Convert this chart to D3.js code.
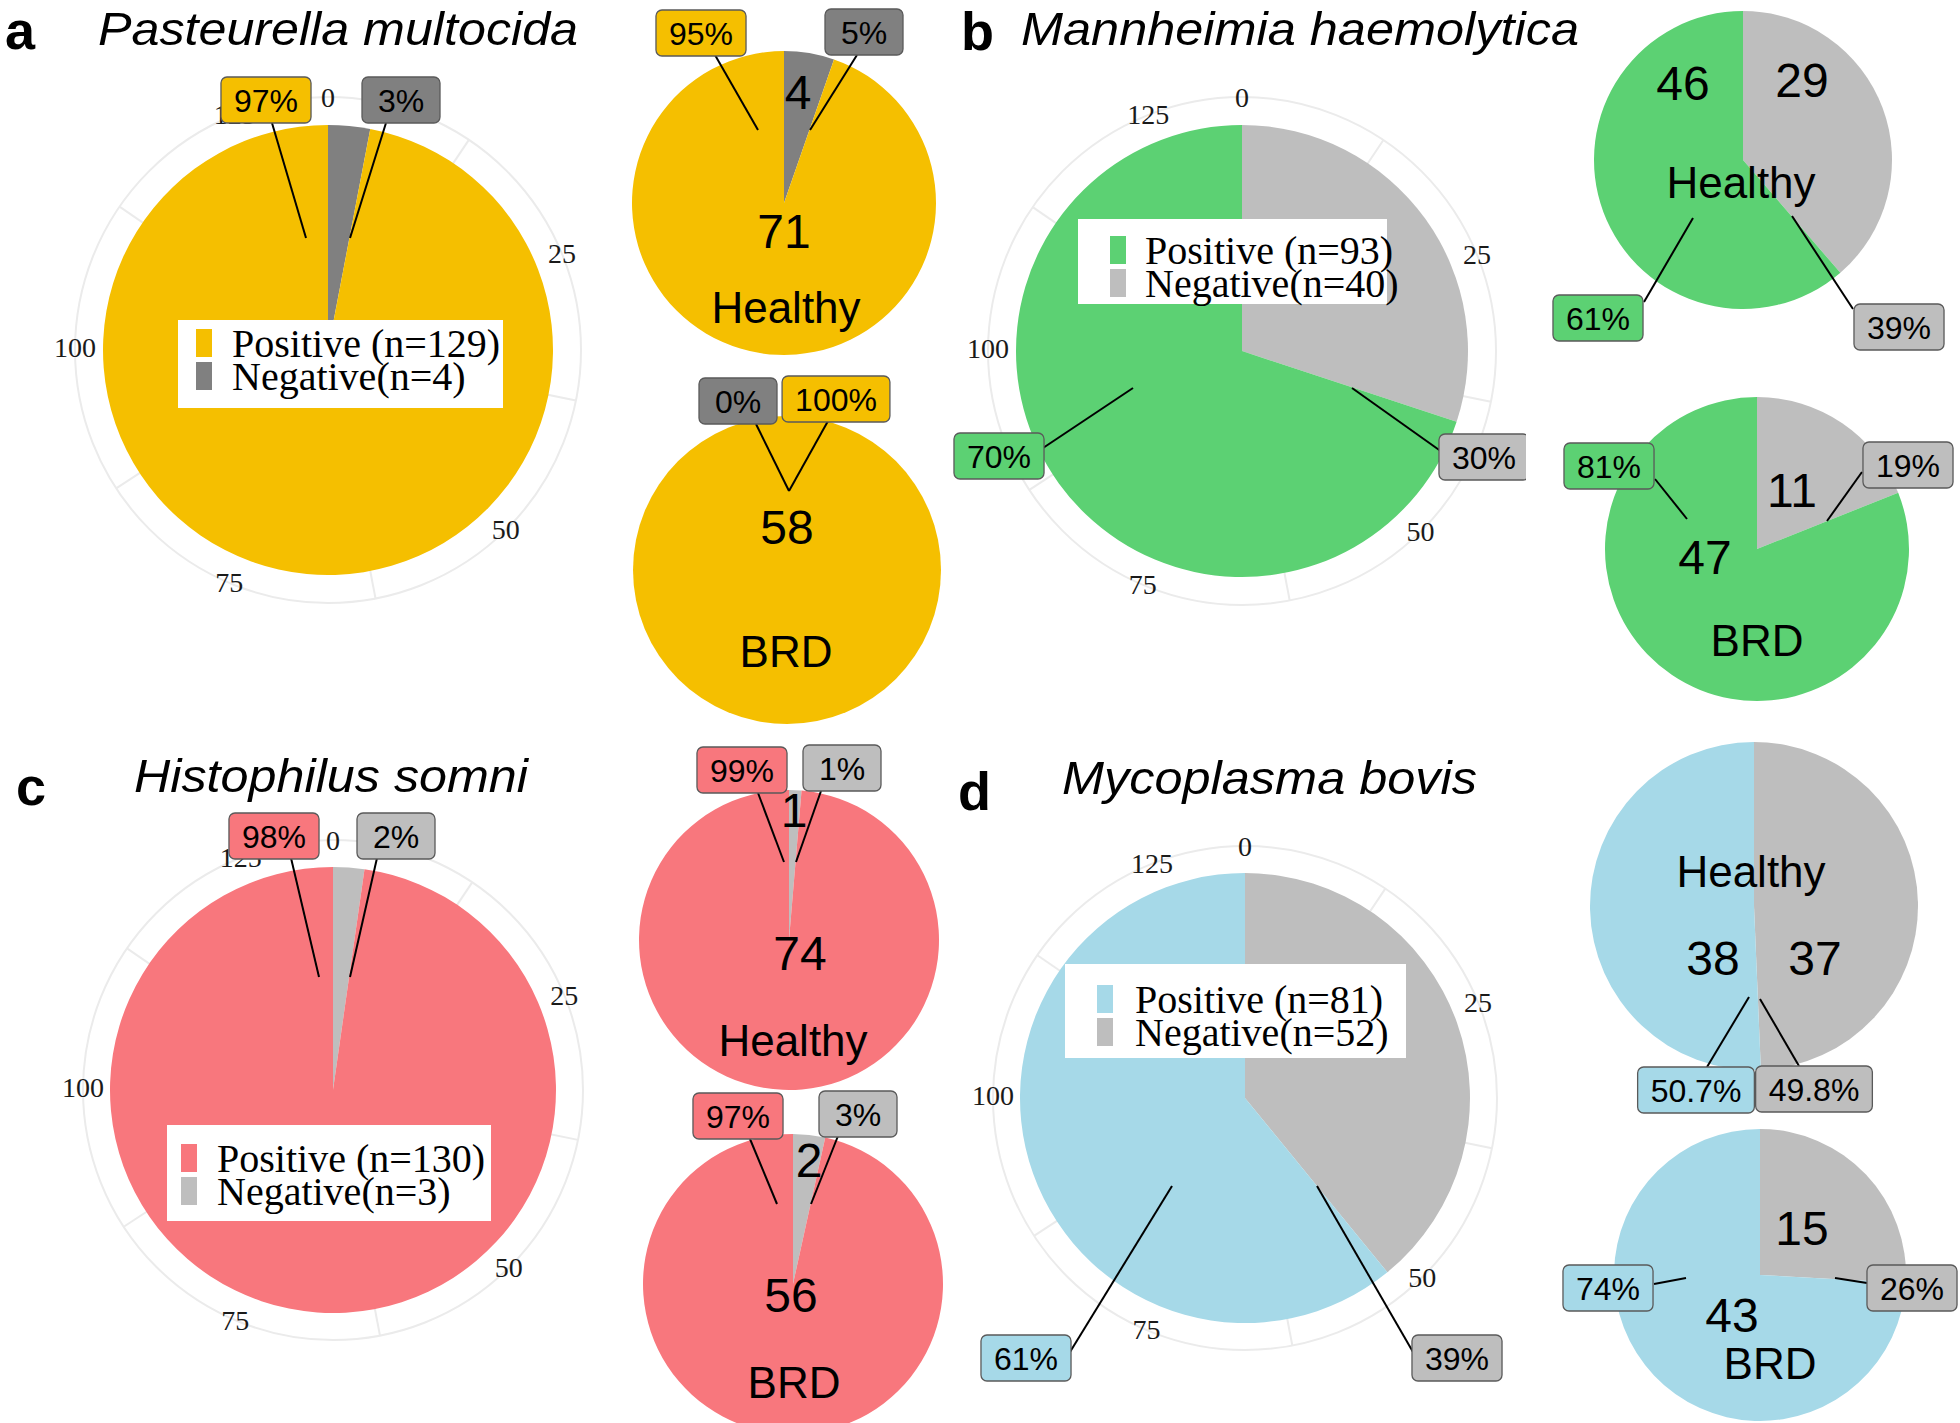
<!DOCTYPE html>
<html><head><meta charset="utf-8">
<script src="https://cdn.jsdelivr.net/npm/d3@7"></script>
<style>body{margin:0;background:#fff}svg{display:block}</style>
</head><body>
<svg id="fig" width="1960" height="1423"></svg>
<script>
// ---------------- DATA ----------------
const panelLetters = ['a','b','c','d'];
const species = ['Pasteurella multocida','Mannheimia haemolytica','Histophilus somni','Mycoplasma bovis'];
const totalPositive = [129, 93, 130, 81];
const totalNegative = [4, 40, 3, 52];
const healthyPositive = [71, 46, 74, 38];
const healthyNegative = [4, 29, 1, 37];
const brdPositive = [58, 47, 56, 43];
const brdNegative = [0, 11, 2, 15];
const totalPosPct = ['97%','70%','98%','61%'];
const totalNegPct = ['3%','30%','2%','39%'];
const healthyPosPct = ['95%','61%','99%','50.7%'];
const healthyNegPct = ['5%','39%','1%','49.8%'];
const brdPosPct = ['100%','81%','97%','74%'];
const brdNegPct = ['0%','19%','3%','26%'];
const groupNames = ['Healthy','BRD'];
const axisTicks = [0, 25, 50, 75, 100, 125];
const gridValues = [12.5, 37.5, 62.5, 87.5, 112.5];
const posColors = ['#F5BF00','#5CD173','#F8777D','#A6D9E8'];
const negColors = ['#808080','#BEBEBE','#BEBEBE','#BEBEBE'];

// ---------------- LAYOUT (positions only) ----------------
const layout = [
 { letter:[5,49], title:[98,45,480],
   big:{cx:328,cy:350,r:225,grid:253, legend:{x:178,y:320,w:325,h:88,keyX:196,textX:232,row1:343},
        posBox:[266,100], negBox:[401,100], posLine:[272,123,306,238], negLine:[386,123,350,238]},
   healthy:{cx:784,cy:203,r:152, posBox:[701,33], negBox:[864,32], posLine:[715,55,758,130], negLine:[857,55,810,130], posNum:[784,231], negNum:[798,92], name:[786,307]},
   brd:{cx:787,cy:570,r:154, posBox:[836,399], negBox:[738,401], posLine:[828,421,789,491], negLine:[756,424,789,491], posNum:[787,527], negNum:null, name:[786,651]} },
 { letter:[961,50], title:[1021,45,558],
   big:{cx:1242,cy:351,r:226,grid:254, legend:{x:1078,y:219,w:309,h:85,keyX:1110,textX:1145,row1:250},
        posBox:[999,456], negBox:[1484,457], posLine:[1043,448,1133,388], negLine:[1442,452,1352,388], clip:[940,0,586,740]},
   healthy:{cx:1743,cy:160,r:149, posBox:[1598,318], negBox:[1899,327], posLine:[1644,302,1693,218], negLine:[1853,309,1792,216], posNum:[1683,83], negNum:[1802,80], name:[1741,182]},
   brd:{cx:1757,cy:549,r:152, posBox:[1609,466], negBox:[1908,465], posLine:[1655,479,1687,519], negLine:[1862,472,1827,521], posNum:[1705,557], negNum:[1792,490], name:[1757,640]} },
 { letter:[16,805], title:[134,792,394],
   big:{cx:333,cy:1090,r:223,grid:250, legend:{x:167,y:1125,w:324,h:96,keyX:181,textX:217,row1:1158},
        posBox:[274,836], negBox:[396,836], posLine:[291,858,319,977], negLine:[377,858,350,977]},
   healthy:{cx:789,cy:940,r:150, posBox:[742,770], negBox:[842,768], posLine:[758,793,784,862], negLine:[821,791,796,862], posNum:[800,953], negNum:[794,810], name:[793,1040]},
   brd:{cx:793,cy:1284,r:150, posBox:[738,1116], negBox:[858,1114], posLine:[750,1139,777,1204], negLine:[838,1136,811,1204], posNum:[791,1295], negNum:[809,1160], name:[794,1382]} },
 { letter:[958,810], title:[1062,794,415],
   big:{cx:1245,cy:1098,r:225,grid:252, legend:{x:1065,y:964,w:341,h:94,keyX:1097,textX:1135,row1:999},
        posBox:[1026,1358], negBox:[1457,1358], posLine:[1070,1352,1172,1186], negLine:[1413,1352,1317,1186]},
   healthy:{cx:1754,cy:906,r:164, posBox:[1696,1090], negBox:[1814,1089], posLine:[1707,1067,1749,997], negLine:[1799,1066,1760,999], posNum:[1713,958], negNum:[1815,958], name:[1751,871]},
   brd:{cx:1760,cy:1275,r:146, posBox:[1608,1288], negBox:[1912,1288], posLine:[1654,1284,1686,1278], negLine:[1867,1283,1835,1278], posNum:[1732,1315], negNum:[1802,1228], name:[1770,1363]} }
];

const SANS = "'Liberation Sans', Arial, Helvetica, sans-serif";
const SERIF = "'Liberation Serif', 'Times New Roman', serif";
const svg = d3.select('#fig');
svg.append('rect').attr('width',1960).attr('height',1423).attr('fill','#fff');

const pie = d3.pie().sort(null).value(d => d.v);

function drawLine(g, l){
  g.append('line').attr('x1',l[0]).attr('y1',l[1]).attr('x2',l[2]).attr('y2',l[3])
   .attr('stroke','#000').attr('stroke-width',2);
}
function drawBox(g, c, text, fill){
  const bg = g.append('g');
  const t = bg.append('text').attr('x',c[0]).attr('y',c[1]+1).attr('text-anchor','middle')
    .attr('dominant-baseline','central').attr('font-family',SANS).attr('font-size',32).attr('fill','#000').text(text);
  const w = Math.max(t.node().getComputedTextLength() + 26, 78), h = 46;
  bg.insert('rect','text').attr('x',c[0]-w/2).attr('y',c[1]-h/2).attr('width',w).attr('height',h)
    .attr('rx',6).attr('fill',fill).attr('stroke','#5a5a5a').attr('stroke-width',1.3);
}
function numText(g, p, text, size){
  g.append('text').attr('x',p[0]).attr('y',p[1]).attr('text-anchor','middle').attr('dominant-baseline','central')
   .attr('font-family',SANS).attr('font-size',size).attr('fill','#000').text(text);
}

layout.forEach((L, i) => {
  const panel = svg.append('g');
  // letter + title
  panel.append('text').attr('x',L.letter[0]).attr('y',L.letter[1]).attr('font-family',SANS).attr('font-weight','bold')
    .attr('font-size',54).text(panelLetters[i]);
  panel.append('text').attr('x',L.title[0]).attr('y',L.title[1]).attr('font-family',SANS).attr('font-style','italic')
    .attr('font-size',46).attr('textLength',L.title[2]).attr('lengthAdjust','spacingAndGlyphs').text(species[i]);

  // ---- big polar pie ----
  const B = L.big;
  let bg = panel.append('g');
  if (B.clip){
    const id = 'clip'+i;
    svg.append('defs').append('clipPath').attr('id',id).append('rect')
      .attr('x',B.clip[0]).attr('y',B.clip[1]).attr('width',B.clip[2]).attr('height',B.clip[3]);
    bg.attr('clip-path',`url(#${id})`);
  }
  const total = totalPositive[i] + totalNegative[i];
  const theta = d3.scaleLinear().domain([0,total]).range([0,2*Math.PI]);
  const g = bg.append('g').attr('transform',`translate(${B.cx},${B.cy})`);
  g.append('circle').attr('r',B.grid).attr('fill','none').attr('stroke','#EBEBEB').attr('stroke-width',2);
  gridValues.forEach(v => {
    const a = theta(v);
    g.append('line').attr('x1',0).attr('y1',0).attr('x2',B.grid*Math.sin(a)).attr('y2',-B.grid*Math.cos(a))
      .attr('stroke','#EBEBEB').attr('stroke-width',2);
  });
  axisTicks.forEach(v => {
    const a = theta(v);
    g.append('text').attr('x',B.grid*Math.sin(a)).attr('y',-B.grid*Math.cos(a)).attr('text-anchor','middle')
      .attr('dominant-baseline','central').attr('font-family',SERIF).attr('font-size',28).attr('fill','#1a1a1a').text(v);
  });
  const bigData = [{k:'neg',v:totalNegative[i]},{k:'pos',v:totalPositive[i]}];
  const arcBig = d3.arc().innerRadius(0).outerRadius(B.r);
  g.selectAll('path.s').data(pie(bigData)).join('path').attr('class','s').attr('d',arcBig)
    .attr('fill',d => d.data.k==='pos' ? posColors[i] : negColors[i]);
  // legend
  const lg = B.legend;
  bg.append('rect').attr('x',lg.x).attr('y',lg.y).attr('width',lg.w).attr('height',lg.h).attr('fill','#fff');
  const legItems = [
    {c:posColors[i], t:`Positive (n=${totalPositive[i]})`},
    {c:negColors[i], t:`Negative(n=${totalNegative[i]})`}
  ];
  legItems.forEach((it,j) => {
    const yc = lg.row1 + j*33;
    bg.append('rect').attr('x',lg.keyX).attr('y',yc-14).attr('width',16).attr('height',28).attr('fill',it.c);
    bg.append('text').attr('x',lg.textX).attr('y',yc).attr('dominant-baseline','central')
      .attr('font-family',SERIF).attr('font-size',40).attr('fill','#000').text(it.t);
  });
  drawLine(bg, B.posLine); drawLine(bg, B.negLine);
  drawBox(bg, B.posBox, totalPosPct[i], posColors[i]);
  drawBox(bg, B.negBox, totalNegPct[i], negColors[i]);

  // ---- small pies ----
  const smalls = [
    {S:L.healthy, pos:healthyPositive[i], neg:healthyNegative[i], pp:healthyPosPct[i], np:healthyNegPct[i], name:groupNames[0]},
    {S:L.brd, pos:brdPositive[i], neg:brdNegative[i], pp:brdPosPct[i], np:brdNegPct[i], name:groupNames[1]}
  ];
  smalls.forEach(sm => {
    const S = sm.S;
    const sg = panel.append('g');
    const arc = d3.arc().innerRadius(0).outerRadius(S.r);
    sg.append('g').attr('transform',`translate(${S.cx},${S.cy})`)
      .selectAll('path').data(pie([{k:'neg',v:sm.neg},{k:'pos',v:sm.pos}])).join('path')
      .attr('d',arc).attr('fill',d => d.data.k==='pos' ? posColors[i] : negColors[i]);
    numText(sg, S.posNum, sm.pos, 48);
    if (S.negNum) numText(sg, S.negNum, sm.neg, 48);
    numText(sg, S.name, sm.name, 44);
    drawLine(sg, S.posLine); drawLine(sg, S.negLine);
    drawBox(sg, S.posBox, sm.pp, posColors[i]);
    drawBox(sg, S.negBox, sm.np, negColors[i]);
  });
});
</script>
</body></html>
